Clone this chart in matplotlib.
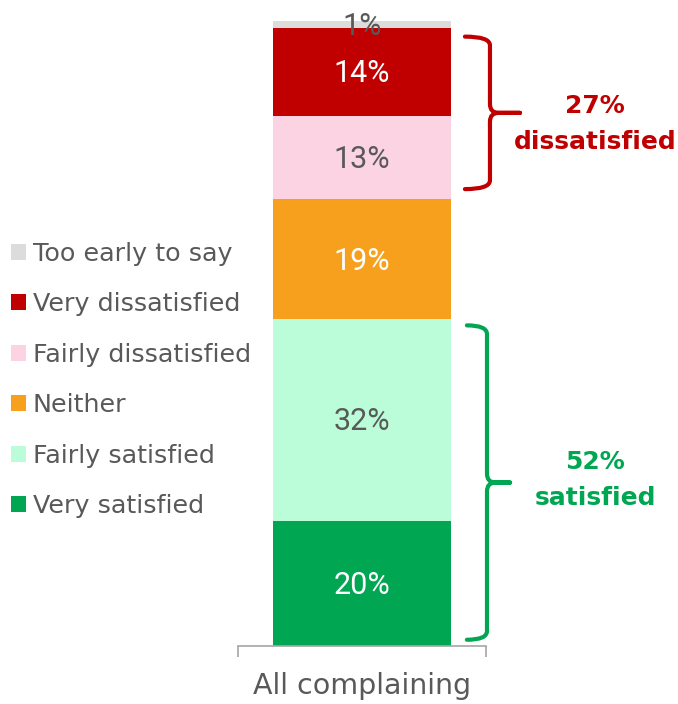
import numpy as np
import matplotlib.pyplot as plt
import matplotlib.transforms as mtransforms
from matplotlib.path import Path
from matplotlib.patches import PathPatch, Patch

# data (bottom to top of the stacked bar)
category = ['All complaining']
segments = ['Very satisfied', 'Fairly satisfied', 'Neither',
            'Fairly dissatisfied', 'Very dissatisfied', 'Too early to say']
values = [20.0, 32.3, 19.2, 13.3, 14.1, 1.1]
colors = ['#00A651', '#BBFDD9', '#F6A01E', '#FBD3E2', '#C00000', '#DCDCDC']
label_colors = ['white', '#595959', 'white', '#595959', 'white', '#595959']

sat_idx = [0, 1]
dis_idx = [3, 4]
sat_color = '#00A651'
dis_color = '#C00000'
grey = '#595959'

fig = plt.figure(figsize=(6.78, 7.04), dpi=100)
ax = fig.add_axes([238 / 678, 58 / 704, 248 / 678, 625 / 704])

bottoms = np.concatenate([[0], np.cumsum(values)[:-1]])
for i, seg in enumerate(segments):
    ax.bar(0, values[i], bottom=bottoms[i], width=0.714, color=colors[i], label=seg)
    ax.text(0, bottoms[i] + values[i] / 2 - 0.3, f'{round(values[i])}%', ha='center', va='center',
            color=label_colors[i], fontsize=22, family='Roboto')

ax.set_xlim(-0.5, 0.5)
ax.set_ylim(0, 100)
ax.set_yticks([])
for s in ['left', 'right', 'top']:
    ax.spines[s].set_visible(False)
ax.spines['bottom'].set_color('#A6A6A6')
ax.spines['bottom'].set_linewidth(1.2)
ax.set_xticks([0])
ax.set_xticklabels(category, fontsize=20.5, color=grey)
ax.tick_params(axis='x', which='major', length=0, pad=19)
ax.set_xticks([-0.5, 0.5], minor=True)
ax.tick_params(axis='x', which='minor', length=8, width=1.2, color='#A6A6A6', direction='out')


def brace(y0, y1, x0, xv, xt, color):
    trans = mtransforms.blended_transform_factory(ax.transAxes, ax.transData)
    ym = (y0 + y1) / 2
    ry, rx = 1.4, 0.035
    verts = [(x0, y1), (xv, y1), (xv, y1 - ry),
             (xv, ym + ry),
             (xv, ym), (xv + rx, ym),
             (xt, ym),
             (xv + rx, ym),
             (xv, ym), (xv, ym - ry),
             (xv, y0 + ry),
             (xv, y0), (x0, y0)]
    codes = [Path.MOVETO, Path.CURVE3, Path.CURVE3,
             Path.LINETO,
             Path.CURVE3, Path.CURVE3,
             Path.LINETO,
             Path.LINETO,
             Path.CURVE3, Path.CURVE3,
             Path.LINETO,
             Path.CURVE3, Path.CURVE3]
    p = PathPatch(Path(verts, codes), transform=trans, fill=False, edgecolor=color,
                  linewidth=3, capstyle='round', joinstyle='round', clip_on=False)
    ax.add_patch(p)
    return ym


mixed = mtransforms.blended_transform_factory(ax.transAxes, ax.transData)

# dissatisfied bracket
d0 = bottoms[dis_idx[0]] + 1.6
d1 = bottoms[dis_idx[-1]] + values[dis_idx[-1]] - 1.4
dm = brace(d0, d1, 0.915, 1.016, 1.137, dis_color)
dis_total = sum(round(values[i]) for i in dis_idx)
ax.text(1.44, dm - 1.8, f'{dis_total}%\ndissatisfied', transform=mixed,
        ha='center', va='center', color=dis_color, fontsize=18, fontweight='bold', linespacing=1.6)

# satisfied bracket
s0 = bottoms[sat_idx[0]] + 1.0
s1 = bottoms[sat_idx[-1]] + values[sat_idx[-1]] - 1.0
sm = brace(s0, s1, 0.923, 1.004, 1.097, sat_color)
sat_total = sum(round(values[i]) for i in sat_idx)
ax.text(1.44, sm + 0.4, f'{sat_total}%\nsatisfied', transform=mixed,
        ha='center', va='center', color=sat_color, fontsize=18, fontweight='bold', linespacing=1.6)

# legend, top segment first
handles = [Patch(facecolor=colors[i], label=segments[i]) for i in range(len(segments))][::-1]
leg = fig.legend(handles=handles, loc='center left', bbox_to_anchor=(11 / 678, (704 - 380) / 704),
                 bbox_transform=fig.transFigure, frameon=False, fontsize=18.3,
                 handlelength=0.6, handleheight=0.6, handletextpad=0.25,
                 labelspacing=1.04, borderpad=0, borderaxespad=0)
for t in leg.get_texts():
    t.set_color(grey)

fig.savefig('out.png', dpi=100)
